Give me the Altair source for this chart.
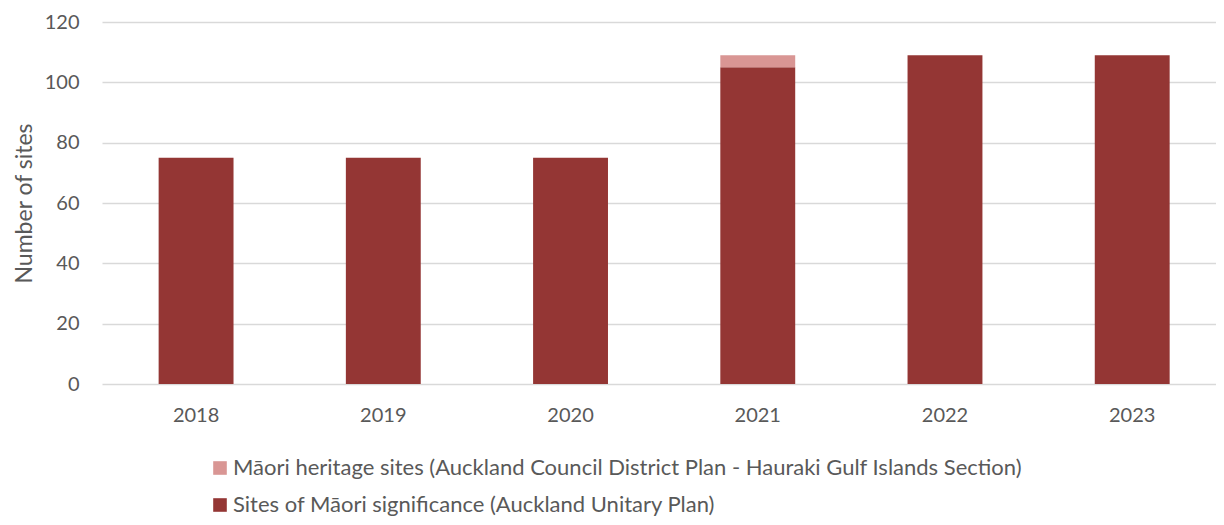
import altair as alt
import pandas as pd

years = ["2018", "2019", "2020", "2021", "2022", "2023"]
significance = [75, 75, 75, 105, 109, 109]
heritage = [0, 0, 0, 4, 0, 0]

s_sig = "Sites of Māori significance (Auckland Unitary Plan)"
s_her = "Māori heritage sites (Auckland Council District Plan - Hauraki Gulf Islands Section)"

rows = []
for y, a, b in zip(years, significance, heritage):
    rows.append({"year": y, "series": s_sig, "value": a, "ord": 0})
    rows.append({"year": y, "series": s_her, "value": b, "ord": 1})
df = pd.DataFrame(rows)

FONT = "Lato"
GREY = "#595959"

chart = alt.Chart(df).mark_bar().encode(
    x=alt.X("year:N", title=None,
            scale=alt.Scale(paddingInner=0.6, paddingOuter=0.275, align=0.55),
            axis=alt.Axis(labelAngle=0, labelFontSize=20, labelColor=GREY, labelFont=FONT,
                          ticks=False, domain=False, labelPadding=21)),
    y=alt.Y("value:Q", stack="zero", title="Number of sites",
            scale=alt.Scale(domain=[0, 120]),
            axis=alt.Axis(values=[0, 20, 40, 60, 80, 100, 120], labelFontSize=20, labelColor=GREY,
                          labelFont=FONT, ticks=False, domain=False, labelPadding=23,
                          gridColor="#d9d9d9", gridWidth=1.5,
                          titleFontSize=23, titleFont=FONT, titleColor=GREY, titleFontWeight="normal",
                          titleX=-78, titleY=181, titleAngle=-90, titleAlign="center",
                          titleBaseline="middle")),
    color=alt.Color("series:N",
                    scale=alt.Scale(domain=[s_her, s_sig], range=["#D99694", "#943634"]),
                    legend=alt.Legend(title=None, orient="none", legendX=107, legendY=435,
                                      direction="vertical", symbolType="square", symbolSize=185,
                                      symbolStrokeWidth=0, labelFontSize=22, labelFont=FONT,
                                      labelColor=GREY, rowPadding=15, labelLimit=1100,
                                      labelOffset=2)),
    order=alt.Order("ord:Q"),
).properties(
    width=1114, height=362,
    autosize=alt.AutoSizeParams(type="none"),
    padding={"left": 94, "top": 14, "right": 0, "bottom": 133},
).configure_view(stroke=None)

chart.save("out.html", embed_options={"renderer": "svg", "actions": False})
